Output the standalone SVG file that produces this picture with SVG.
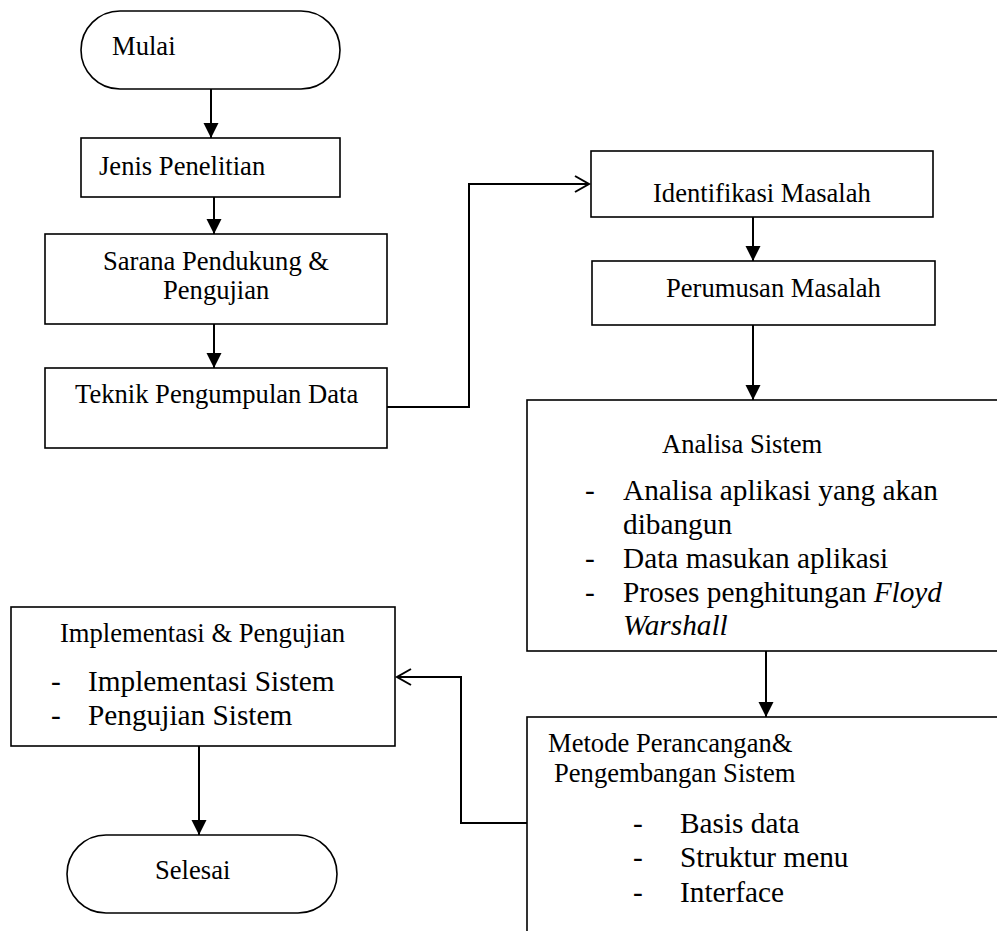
<svg xmlns="http://www.w3.org/2000/svg" width="997" height="931" viewBox="0 0 997 931">
<defs>
<style>
.box{fill:#fff;stroke:#000;stroke-width:1.6}
.t{font-family:"Liberation Serif","Times New Roman",serif;font-size:26.6px;fill:#000}
.l{font-family:"Liberation Serif","Times New Roman",serif;font-size:29.3px;fill:#000}
.i{font-style:italic}
.c{fill:none;stroke:#000;stroke-width:2}
</style>
<marker id="fa" markerUnits="userSpaceOnUse" markerWidth="16" markerHeight="16" viewBox="0 0 16 16" refX="15" refY="8" orient="auto"><path d="M0,0.5 L15,8 L0,15.5 z" fill="#000"/></marker>
<marker id="oa" markerUnits="userSpaceOnUse" markerWidth="18" markerHeight="20" viewBox="0 0 18 20" refX="15" refY="10" orient="auto"><path d="M1,2 L15,10 L1,18" fill="none" stroke="#000" stroke-width="2"/></marker>
</defs>
<rect width="997" height="931" fill="#fff"/>
<g id="connectors">
<path class="c" d="M211,89 V138" marker-end="url(#fa)"/>
<path class="c" d="M214,197 V234" marker-end="url(#fa)"/>
<path class="c" d="M214,324 V368" marker-end="url(#fa)"/>
<path class="c" d="M387,407 H469 V184 H589" marker-end="url(#oa)"/>
<path class="c" d="M753,217 V261" marker-end="url(#fa)"/>
<path class="c" d="M753,325 V400" marker-end="url(#fa)"/>
<path class="c" d="M766,651 V717" marker-end="url(#fa)"/>
<path class="c" d="M527,823 H461 V677 H397" marker-end="url(#oa)"/>
<path class="c" d="M199,746 V835" marker-end="url(#fa)"/>
</g>
<g id="mulai">
<rect class="box" x="81" y="11" width="259" height="78" rx="39" ry="39"/>
<text class="t" x="112" y="55">Mulai</text>
</g>
<g id="jenis">
<rect class="box" x="81" y="138" width="259" height="59"/>
<text class="t" x="99" y="175">Jenis Penelitian</text>
</g>
<g id="sarana">
<rect class="box" x="45" y="234" width="342" height="90"/>
<text class="t" x="103" y="270">Sarana Pendukung &amp;</text>
<text class="t" x="163" y="299">Pengujian</text>
</g>
<g id="teknik">
<rect class="box" x="45" y="368" width="342" height="80"/>
<text class="t" x="75" y="403">Teknik Pengumpulan Data</text>
</g>
<g id="identifikasi">
<rect class="box" x="591" y="151" width="342" height="66"/>
<text class="t" x="653" y="202">Identifikasi Masalah</text>
</g>
<g id="perumusan">
<rect class="box" x="592" y="261" width="343" height="64"/>
<text class="t" x="666" y="297">Perumusan Masalah</text>
</g>
<g id="analisa">
<rect class="box" x="527" y="400" width="490" height="251"/>
<text class="t" x="662" y="453">Analisa Sistem</text>
<text class="l" x="585" y="500">-</text>
<text class="l" x="623" y="500">Analisa aplikasi yang akan</text>
<text class="l" x="623" y="534">dibangun</text>
<text class="l" x="585" y="568">-</text>
<text class="l" x="623" y="568">Data masukan aplikasi</text>
<text class="l" x="585" y="602">-</text>
<text class="l" x="623" y="602">Proses penghitungan <tspan class="i">Floyd</tspan></text>
<text class="l i" x="623" y="635">Warshall</text>
</g>
<g id="metode">
<rect class="box" x="527" y="717" width="490" height="240"/>
<text class="t" x="548" y="752">Metode Perancangan&amp;</text>
<text class="t" x="554" y="782">Pengembangan Sistem</text>
<text class="l" x="633" y="833">-</text>
<text class="l" x="680" y="833">Basis data</text>
<text class="l" x="633" y="867">-</text>
<text class="l" x="680" y="867">Struktur menu</text>
<text class="l" x="633" y="902">-</text>
<text class="l" x="680" y="902">Interface</text>
</g>
<g id="implementasi">
<rect class="box" x="11" y="607" width="384" height="139"/>
<text class="t" x="60" y="642">Implementasi &amp; Pengujian</text>
<text class="l" x="51" y="691">-</text>
<text class="l" x="88" y="691">Implementasi Sistem</text>
<text class="l" x="51" y="725">-</text>
<text class="l" x="88" y="725">Pengujian Sistem</text>
</g>
<g id="selesai">
<rect class="box" x="67" y="835" width="270" height="78" rx="39" ry="39"/>
<text class="t" x="155" y="879">Selesai</text>
</g>
</svg>
